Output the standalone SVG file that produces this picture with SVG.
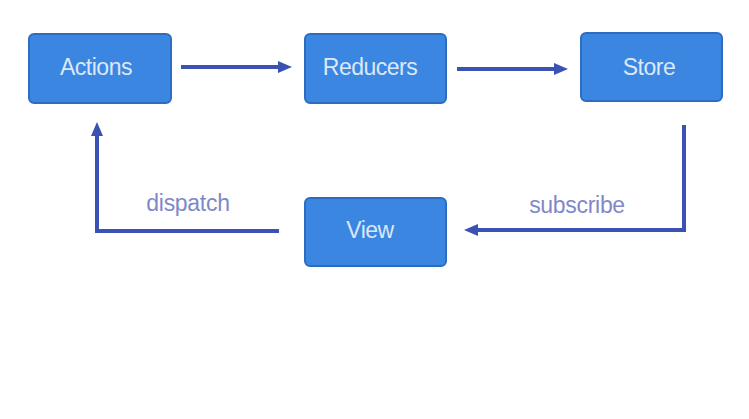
<svg xmlns="http://www.w3.org/2000/svg" width="749" height="419" viewBox="0 0 749 419">
<style>
.box{fill:#3b86e0;stroke:#2e6cc2;stroke-width:2}
.lbl{font-family:"Liberation Sans",Arial,sans-serif;font-size:23px;fill:#dce8f8;text-anchor:middle;letter-spacing:-0.5px}
.edge{fill:none;stroke:#3a52b4;stroke-width:4}
.elbl{font-family:"Liberation Sans",Arial,sans-serif;font-size:23px;fill:#8088c8;text-anchor:middle;letter-spacing:-0.3px}
</style>
<defs>
<marker id="ah" markerWidth="4" markerHeight="4" refX="1" refY="2" orient="auto" markerUnits="strokeWidth" viewBox="0 0 4 4">
<path d="M0,0.5 L3.5,2 L0,3.5 z" fill="#3a52b4"/>
</marker>
</defs>
<rect width="749" height="419" fill="#ffffff"/>
<g id="connectors">
<line class="edge" x1="181" y1="67" x2="282" y2="67" marker-end="url(#ah)"/>
<line class="edge" x1="457" y1="69" x2="558" y2="69" marker-end="url(#ah)"/>
<polyline class="edge" points="684,125 684,230 474,230" marker-end="url(#ah)"/>
<polyline class="edge" points="279,231 97,231 97,132" marker-end="url(#ah)"/>
<text class="elbl" x="188" y="211">dispatch</text>
<text class="elbl" x="577" y="213">subscribe</text>
</g>
<g id="actions"><rect class="box" x="29" y="34" width="142" height="69" rx="5"/><text class="lbl" x="96" y="75">Actions</text></g>
<g id="reducers"><rect class="box" x="305" y="34" width="141" height="69" rx="5"/><text class="lbl" x="370" y="75">Reducers</text></g>
<g id="store"><rect class="box" x="581" y="33" width="141" height="68" rx="5"/><text class="lbl" x="649" y="75">Store</text></g>
<g id="view"><rect class="box" x="305" y="198" width="141" height="68" rx="5"/><text class="lbl" x="370" y="238">View</text></g>
</svg>
